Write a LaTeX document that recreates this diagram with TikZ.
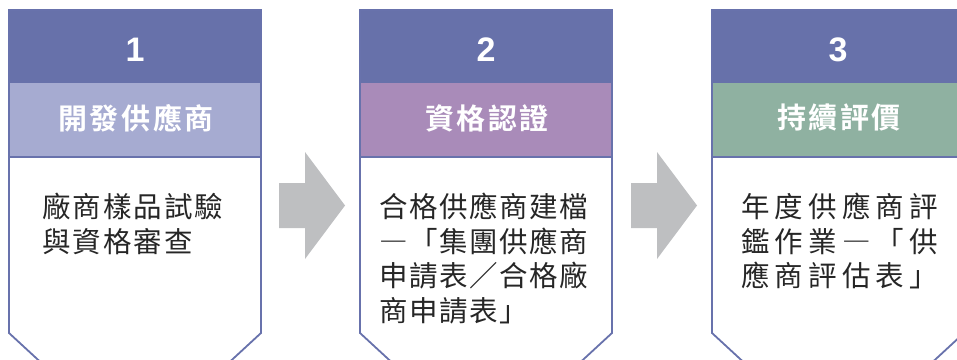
\documentclass[tikz,border=0pt]{standalone}
\usepackage{fontspec}
\setmainfont{Liberation Sans}
\newfontfamily\cjkhead[LetterSpace=9]{Noto Sans CJK TC Bold}
\newfontfamily\cjkbodyA[LetterSpace=7]{Noto Sans CJK TC}
\newfontfamily\cjkbodyB[LetterSpace=5.5]{Noto Sans CJK TC}
\newfontfamily\cjkbodyC[LetterSpace=18]{Noto Sans CJK TC}
\definecolor{hdark}{RGB}{103,113,170}
\definecolor{hone}{RGB}{166,171,209}
\definecolor{htwo}{RGB}{169,139,185}
\definecolor{hthree}{RGB}{143,177,161}
\definecolor{arrowgray}{RGB}{190,191,193}
\definecolor{edge}{RGB}{104,114,172}
\tikzset{
  num/.style={text=white,font=\fontsize{34}{34}\selectfont\bfseries,inner sep=0pt,anchor=center},
  headtxt/.style={text=white,font=\fontsize{29}{29}\selectfont\cjkhead,inner sep=0pt,anchor=center},
  bodytxt/.style={text=black!85,inner sep=0pt,anchor=base west},
  border/.style={draw=edge,line width=1.8pt,line join=miter},
  bigarrow/.style={fill=arrowgray,draw=none}
}
\newcommand\stagebox[2]{%
  % #1 = left x, #2 = header colour
  \fill[white] (#1,157) -- (#1+252,157) -- (#1+252,333) -- (#1+200,389) -- (#1+52,389) -- (#1,333) -- cycle;
  \fill[hdark] (#1,10) rectangle (#1+252,83);
  \fill[#2] (#1,83) rectangle (#1+252,157);
  \draw[border] (#1+28+24,359+22) -- (#1,333) -- (#1,10) -- (#1+252,10) -- (#1+252,333) -- (#1+252-52,359+22);
  \draw[border] (#1,157) -- (#1+252,157);
}
\begin{document}
\begin{tikzpicture}[x=1pt,y=-1pt]
\useasboundingbox (0,0) rectangle (957,359);
\clip (0,0) rectangle (957,359);
\stagebox{9}{hone}
\stagebox{360}{htwo}
\stagebox{712}{hthree}
% arrows
\fill[bigarrow] (279,183) -- (305,183) -- (305,152) -- (345,205.5) -- (305,259) -- (305,228) -- (279,228) -- cycle;
\fill[bigarrow] (631,183) -- (657,183) -- (657,152) -- (697,205.5) -- (657,259) -- (657,228) -- (631,228) -- cycle;
% numbers
\node[num] (n1) at (135,50) {1};
\node[num] (n2) at (486,50) {2};
\node[num] (n3) at (838,50) {3};
% headers
\node[headtxt] (h1) at (136,118) {開發供應商};
\node[headtxt] (h2) at (487,118) {資格認證};
\node[headtxt] (h3) at (839,118) {持續評價};
% body texts
\begin{scope}[every node/.append style={bodytxt}]
\node[font=\fontsize{28.5}{28.5}\cjkbodyA] (a1) at (42,217) {廠商樣品試驗};
\node[font=\fontsize{28.5}{28.5}\cjkbodyA] (a2) at (42,252) {與資格審查};
\node[font=\fontsize{28.5}{28.5}\cjkbodyB] (b1) at (379,217) {合格供應商建檔};
\node[font=\fontsize{28.5}{28.5}\cjkbodyB] (b2) at (379,252) {―「集團供應商};
\node[font=\fontsize{28.5}{28.5}\cjkbodyB] (b3) at (379,286.5) {申請表／合格廠};
\node[font=\fontsize{28.5}{28.5}\cjkbodyB] (b4) at (379,321) {商申請表」};
\node[font=\fontsize{28.5}{28.5}\cjkbodyC] (c1) at (741,217) {年度供應商評};
\node[font=\fontsize{28.5}{28.5}\cjkbodyC] (c2) at (741,252) {鑑作業―「供};
\node[font=\fontsize{28.5}{28.5}\cjkbodyC] (c3) at (741,286.5) {應商評估表」};
\end{scope}
\end{tikzpicture}
\end{document}
